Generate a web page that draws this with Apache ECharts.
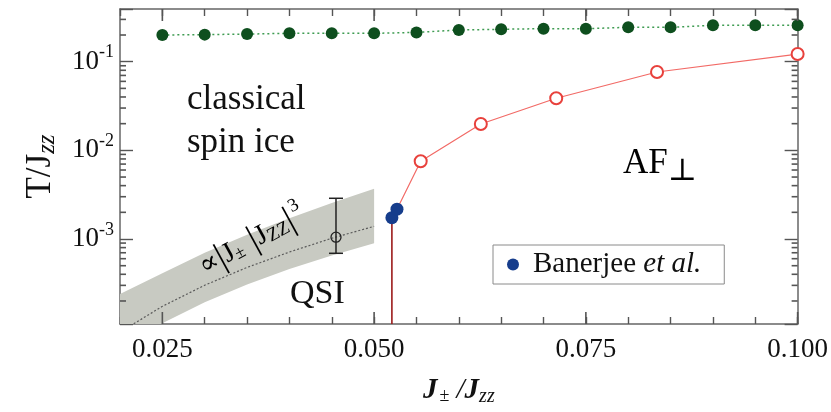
<!DOCTYPE html>
<html>
<head>
<meta charset="utf-8">
<script src="https://cdn.jsdelivr.net/npm/echarts@6/dist/echarts.min.js"></script>
<style>
html, body { margin: 0; padding: 0; background: #fff; }
#main { width: 831px; height: 412px; }
</style>
</head>
<body>
<div id="main"></div>
<script>
// values
var gapX = [0.025, 0.030, 0.035, 0.040, 0.045, 0.050, 0.055, 0.060, 0.065, 0.070, 0.075, 0.080, 0.085, 0.090, 0.095, 0.100];
var gapT = [0.200, 0.202, 0.205, 0.209, 0.209, 0.209, 0.214, 0.228, 0.232, 0.236, 0.236, 0.244, 0.244, 0.257, 0.257, 0.257];
var neelX = [0.0555, 0.0626, 0.0715, 0.0834, 0.100];
var neelT = [0.00754, 0.0198, 0.0387, 0.0765, 0.122];
var banX = [0.0521, 0.0527];
var banT = [0.00174, 0.00217];
// QSI band (grey) and its centre line
var qsiX = [0.020, 0.025, 0.030, 0.035, 0.040, 0.045, 0.050];
var qsiMid = [0.000089, 0.000174, 0.000301, 0.000478, 0.000713, 0.00102, 0.00139];
var qsiHi = [0.00024, 0.00041, 0.00070, 0.00112, 0.00172, 0.00255, 0.00370];
var qsiLo = [0.000057, 0.000112, 0.000194, 0.000307, 0.000458, 0.000653, 0.000896];
// single estimate with error bar
var estX = [0.0455], estT = [0.00105], estLo = [0.00069], estHi = [0.00288];
// axes
var xLabels = [0.025, 0.050, 0.075, 0.100];
var xMinor = [0.030, 0.035, 0.040, 0.045, 0.055, 0.060, 0.065, 0.070, 0.080, 0.085, 0.090, 0.095];
var yLabels = [0.001, 0.01, 0.1];
var yMinor = [0.0002, 0.0003, 0.0004, 0.0005, 0.0006, 0.0007, 0.0008, 0.0009,
              0.002, 0.003, 0.004, 0.005, 0.006, 0.007, 0.008, 0.009,
              0.02, 0.03, 0.04, 0.05, 0.06, 0.07, 0.08, 0.09, 0.2, 0.3];
var X_MIN = 0.02, X_MAX = 0.1, Y_MIN = 0.00011, Y_MAX = 0.393;

var SERIF = "'Liberation Serif', 'DejaVu Serif', serif";
var AX = '#666';

function zip(xs, ys) {
    var out = [];
    for (var i = 0; i < xs.length; i++) out.push([xs[i], ys[i]]);
    return out;
}

var chart = echarts.init(document.getElementById('main'), null, { renderer: 'canvas' });

var redData = [{ value: [banX[1], banT[1]], symbol: 'none' }].concat(zip(neelX, neelT));

var texts = [
    { type: 'text', x: 187, y: 100, z: 50, style: { text: 'classical', font: '35px ' + SERIF, fill: '#111', verticalAlign: 'middle' } },
    { type: 'text', x: 187, y: 143, z: 50, style: { text: 'spin ice', font: '35px ' + SERIF, fill: '#111', verticalAlign: 'middle' } },
    { type: 'text', x: 290, y: 294, z: 50, style: { text: 'QSI', font: '34px ' + SERIF, fill: '#111', verticalAlign: 'middle' } },
    { type: 'text', x: 623, y: 164, z: 50, style: {
        text: '{a|AF}{p|⊥}', verticalAlign: 'middle',
        rich: {
            a: { fontFamily: SERIF, fontSize: 35, color: '#111' },
            p: { fontFamily: SERIF, fontSize: 31, color: '#111', padding: [16, 0, 0, 0] }
        } } },
    { type: 'text', x: 252, y: 241, z: 50, rotation: 0.5, style: {
        text: '{a|∝}{b||}{a|J}{pm|±}{b| |}{a|J}{s|ZZ}{b||}{u|3}',
        align: 'center', verticalAlign: 'middle',
        rich: {
            a: { fontFamily: SERIF, fontSize: 28, color: '#111' },
            b: { fontFamily: SERIF, fontSize: 36, color: '#111' },
            pm: { fontFamily: SERIF, fontSize: 18, color: '#111', padding: [10, 0, 0, 0] },
            s: { fontFamily: SERIF, fontSize: 19, color: '#111', padding: [10, 0, 0, 0] },
            u: { fontFamily: SERIF, fontSize: 19, color: '#111', padding: [0, 0, 22, 2] }
        } } }
];

var option = {
    animation: false,
    backgroundColor: '#fff',
    grid: { left: 120, top: 9, right: 27, bottom: 88, containLabel: false },
    xAxis: [{
        type: 'value', position: 'bottom', min: X_MIN, max: X_MAX, interval: 0.005,
        axisLine: { onZero: false, lineStyle: { color: AX, width: 1.5 } },
        axisTick: { show: true, inside: true, length: 7, lineStyle: { color: '#555', width: 1.4 } },
        splitLine: { show: false },
        axisLabel: {
            customValues: xLabels, margin: 12,
            fontFamily: SERIF, fontSize: 27, color: '#111',
            formatter: function (v) { return v.toFixed(3); }
        },
        name: '{a|J}{pm|±}{r| /}{a|J}{s|zz}',
        nameLocation: 'middle', nameGap: 50,
        nameTextStyle: {
            rich: {
                a: { fontFamily: SERIF, fontSize: 29, fontStyle: 'italic', fontWeight: 'bold', color: '#111' },
                r: { fontFamily: SERIF, fontSize: 29, fontStyle: 'italic', color: '#111' },
                pm: { fontFamily: SERIF, fontSize: 18, color: '#111', padding: [12, 0, 0, 2] },
                s: { fontFamily: SERIF, fontSize: 20, fontStyle: 'italic', color: '#111', padding: [13, 0, 0, 0] }
            }
        }
    }, {
        type: 'value', position: 'top', min: X_MIN, max: X_MAX, interval: 0.005,
        axisLine: { onZero: false, lineStyle: { color: AX, width: 1.5 } },
        axisTick: { show: true, inside: true, length: 7, lineStyle: { color: '#555', width: 1.4 } },
        axisLabel: { show: false }, splitLine: { show: false }
    }],
    yAxis: [{
        type: 'log', position: 'left', min: Y_MIN, max: Y_MAX,
        axisLine: { onZero: false, lineStyle: { color: AX, width: 1.5 } },
        axisTick: { show: true, inside: true, length: 13, lineStyle: { color: '#555', width: 1.4 } },
        splitLine: { show: false },
        axisLabel: {
            customValues: yLabels, margin: 6,
            formatter: function (v) {
                return '{b|10}{s|-' + Math.round(-Math.log(v) / Math.LN10) + '}';
            },
            rich: {
                b: { fontFamily: SERIF, fontSize: 27, color: '#111' },
                s: { fontFamily: SERIF, fontSize: 18, color: '#111', padding: [0, 0, 18, 0] }
            }
        },
        name: '{a|T/J}{s|zz}',
        nameLocation: 'middle', nameGap: 60,
        nameTextStyle: {
            rich: {
                a: { fontFamily: SERIF, fontSize: 35, color: '#111' },
                s: { fontFamily: SERIF, fontSize: 25, fontStyle: 'italic', color: '#111', padding: [14, 0, 0, 0] }
            }
        }
    }, {
        type: 'log', position: 'right', min: Y_MIN, max: Y_MAX,
        axisLine: { onZero: false, lineStyle: { color: AX, width: 1.5 } },
        axisTick: { show: true, inside: true, length: 13, lineStyle: { color: '#555', width: 1.4 } },
        axisLabel: { show: false }, splitLine: { show: false }
    }],
    legend: {
        left: 493, top: 245,
        padding: [5, 23, 5, 14],
        itemWidth: 12, itemHeight: 12,
        borderColor: '#8a8a8a', borderWidth: 1,
        backgroundColor: '#fff',
        data: [{ name: 'Banerjee', icon: 'circle', itemStyle: { color: '#163d8c', opacity: 1 } }],
        formatter: function () { return '{n|Banerjee }{i|et al.}'; },
        textStyle: {
            rich: {
                n: { fontFamily: SERIF, fontSize: 29, color: '#111', padding: [0, 0, 0, 9] },
                i: { fontFamily: SERIF, fontSize: 29, fontStyle: 'italic', color: '#111' }
            }
        }
    },
    graphic: texts,
    series: [
        {
            // grey QSI band
            type: 'custom', name: 'band', z: 1, silent: true, clip: true,
            data: [0],
            renderItem: function (params, api) {
                var pts = [], i;
                for (i = 0; i < qsiX.length; i++) pts.push(api.coord([qsiX[i], qsiHi[i]]));
                for (i = qsiX.length - 1; i >= 0; i--) pts.push(api.coord([qsiX[i], qsiLo[i]]));
                return { type: 'polygon', shape: { points: pts }, style: { fill: '#c8cac2' } };
            }
        },
        {
            type: 'line', name: 'qsi', data: zip(qsiX, qsiMid), z: 2,
            showSymbol: false, symbol: 'none', silent: true,
            lineStyle: { color: '#5a5a5a', width: 1.2, type: [2, 2] }
        },
        {
            // estimate with error bar
            type: 'custom', name: 'est', z: 3, silent: true,
            data: [[estX[0], estT[0], estLo[0], estHi[0]]],
            renderItem: function (params, api) {
                var x = api.value(0);
                var c = api.coord([x, api.value(1)]);
                var lo = api.coord([x, api.value(2)]);
                var hi = api.coord([x, api.value(3)]);
                var st = { stroke: '#222', lineWidth: 1.5 };
                return {
                    type: 'group', children: [
                        { type: 'line', shape: { x1: lo[0], y1: lo[1], x2: hi[0], y2: hi[1] }, style: st },
                        { type: 'line', shape: { x1: lo[0] - 7, y1: lo[1], x2: lo[0] + 7, y2: lo[1] }, style: st },
                        { type: 'line', shape: { x1: hi[0] - 7, y1: hi[1], x2: hi[0] + 7, y2: hi[1] }, style: st },
                        { type: 'circle', shape: { cx: c[0], cy: c[1], r: 5 }, style: { fill: 'none', stroke: '#222', lineWidth: 1.3 } }
                    ]
                };
            }
        },
        {
            type: 'line', name: 'gap', data: zip(gapX, gapT), z: 4,
            symbol: 'circle', symbolSize: 12,
            itemStyle: { color: '#0e4f1e', opacity: 1 },
            lineStyle: { color: '#3f9c52', width: 1.5, type: [2, 3] }
        },
        {
            type: 'line', name: 'neel', data: redData, z: 4,
            symbol: 'emptyCircle', symbolSize: 12,
            itemStyle: { color: '#e8413c', borderWidth: 1.1, opacity: 1 },
            lineStyle: { color: '#f26a66', width: 1.2 }
        },
        {
            type: 'line', name: 'drop', z: 4, symbol: 'none',
            data: [[banX[0], Y_MIN], [banX[0], banT[0]]],
            lineStyle: { color: '#9c1a1a', width: 1.6 }
        },
        {
            type: 'scatter', name: 'Banerjee', data: zip(banX, banT), z: 5,
            symbol: 'circle', symbolSize: 13,
            itemStyle: { color: '#163d8c', opacity: 1 }
        }
    ]
};
chart.setOption(option);

// extra inward frame ticks (major length and log minor ticks), placed through the axes' own scales
var ticks = [];
var tickStyle = { stroke: '#555', lineWidth: 1.6 };
function toPx(x, y) { return chart.convertToPixel({ xAxisIndex: 0, yAxisIndex: 0 }, [x, y]); }
function addX(vals, len) {
    vals.forEach(function (v) {
        var a = toPx(v, Y_MIN), b = toPx(v, Y_MAX);
        ticks.push({ type: 'line', z: 40, silent: true, shape: { x1: a[0], y1: a[1], x2: a[0], y2: a[1] - len }, style: tickStyle });
        ticks.push({ type: 'line', z: 40, silent: true, shape: { x1: b[0], y1: b[1], x2: b[0], y2: b[1] + len }, style: tickStyle });
    });
}
function addY(vals, len) {
    vals.forEach(function (v) {
        var a = toPx(X_MIN, v), b = toPx(X_MAX, v);
        ticks.push({ type: 'line', z: 40, silent: true, shape: { x1: a[0], y1: a[1], x2: a[0] + len, y2: a[1] }, style: tickStyle });
        ticks.push({ type: 'line', z: 40, silent: true, shape: { x1: b[0], y1: b[1], x2: b[0] - len, y2: b[1] }, style: tickStyle });
    });
}
addX(xLabels, 12);
addY(yMinor, 6);
chart.setOption({ graphic: texts.concat(ticks) });
</script>
</body>
</html>
